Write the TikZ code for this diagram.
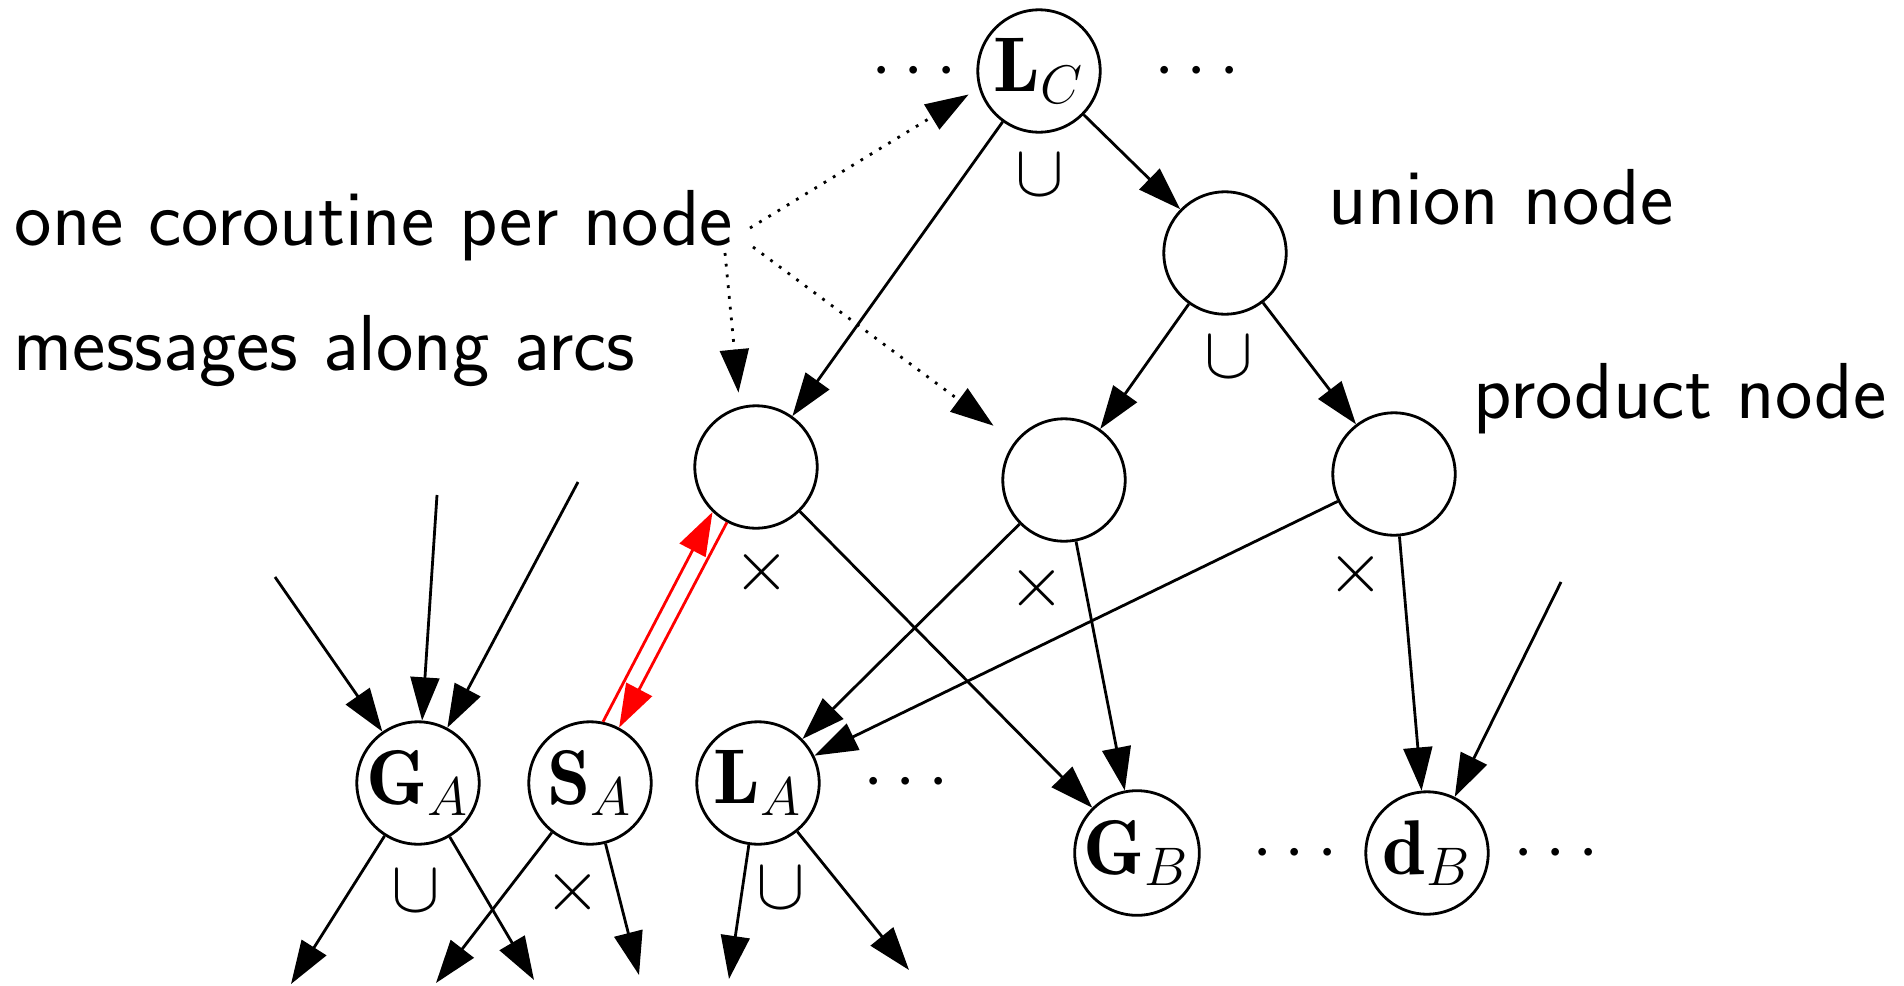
\RequirePackage{fix-cm}
\documentclass[tikz,border=0pt]{standalone}
\usepackage{fontspec}
\usetikzlibrary{arrows.meta}
\begin{document}
\begin{tikzpicture}[x=0.25pt,y=-0.25pt,
  every node/.style={font=\fontsize{19.4}{23}\selectfont},
  gnode/.style={draw, circle, line width=0.7pt, minimum size=30.6pt, inner sep=0pt},
  arr/.style={line width=0.7pt, -{Triangle[length=10.8pt,width=7.2pt]}},
  dotarr/.style={arr, dotted},
  redarr/.style={arr, red},
  lbl/.style={font=\sffamily\fontsize{19.85}{24}\selectfont, anchor=base west, inner sep=0pt},
  op/.style={anchor=base, inner sep=0pt, font=\fontsize{18.25}{22}\selectfont},
]
\useasboundingbox (0,0) rectangle (1904,985);

% nodes
\node[gnode] (LC) at (1039,71) {$\mathbf{L}_C$};
\node[gnode] (U)  at (1225,253) {};
\node[gnode] (P1) at (756,467) {};
\node[gnode] (P2) at (1064,480) {};
\node[gnode] (P3) at (1394,474) {};
\node[gnode] (GA) at (418,783) {$\mathbf{G}_A$};
\node[gnode] (SA) at (590,783) {$\mathbf{S}_A$};
\node[gnode] (LA) at (758,783) {$\mathbf{L}_A$};
\node[gnode] (GB) at (1137,853) {$\mathbf{G}_B$};
\node[gnode] (dB) at (1427,853) {$\mathbf{d}_B$};

% dots
\node[op] (dots1) at (914,88) {$\cdots$};
\node[op] (dots2) at (1197,88) {$\cdots$};
\node[op] (dots3) at (906,799) {$\cdots$};
\node[op] (dots4) at (1295,870) {$\cdots$};
\node[op] (dots5) at (1556,870) {$\cdots$};

% operators
\node[op] (o1) at (1040,195) {$\cup$};
\node[op] (o2) at (1229,377) {$\cup$};
\node[op] (o3) at (762,590) {$\times$};
\node[op] (o4) at (1037,606) {$\times$};
\node[op] (o5) at (1356,592) {$\times$};
\node[op] (o6) at (416,911) {$\cup$};
\node[op] (o7) at (573,910) {$\times$};
\node[op] (o8) at (781,908) {$\cup$};

% labels
\node[lbl] (t1) at (14,245) {one coroutine per node};
\node[lbl] (t2) at (13,370) {messages along arcs};
\node[lbl] (t3) at (1328,224) {union node};
\node[lbl] (t4) at (1473,418) {product node};

% internal arcs
\draw[arr] (LC) -- (P1);
\draw[arr] (LC) -- (U);
\draw[arr] (U) -- (P2);
\draw[arr] (U) -- (P3);
\draw[arr] (P1) -- (GB);
\draw[arr] (P2) -- (LA);
\draw[arr] (P2) -- (GB);
\draw[arr] (P3) -- (LA);
\draw[arr] (P3) -- (dB);

% free incoming arcs
\coordinate (inGA1) at (275,577);
\coordinate (inGA2) at (437,495);
\coordinate (inGA3) at (578,482);
\coordinate (indB) at (1561,582);
\draw[arr] (inGA1) -- (GA);
\draw[arr] (inGA2) -- (GA);
\draw[arr] (inGA3) -- (GA);
\draw[arr] (indB) -- (dB);

% free outgoing arcs
\coordinate (outGA1) at (291,984);
\coordinate (outGA2) at (534,980);
\coordinate (outSA1) at (436,983);
\coordinate (outSA2) at (639,975);
\coordinate (outLA1) at (729,979);
\coordinate (outLA2) at (909,970);
\draw[arr] (GA) -- (outGA1);
\draw[arr] (GA) -- (outGA2);
\draw[arr] (SA) -- (outSA1);
\draw[arr] (SA) -- (outSA2);
\draw[arr] (LA) -- (outLA1);
\draw[arr] (LA) -- (outLA2);

% red messages
\draw[redarr] (SA.78) -- (P1.226);
\draw[redarr] (P1) -- (SA);

% dotted pointers
\coordinate (f1) at (750,228);
\coordinate (f2) at (725,253);
\coordinate (f3) at (753,247);
\draw[dotarr, shorten >=3pt] (f1) -- (LC.196);
\draw[dotarr, shorten >=3.5pt] (f2) -- (P1.105);
\draw[dotarr, shorten >=6.6pt] (f3) -- (P2.142);
\end{tikzpicture}
\end{document}
